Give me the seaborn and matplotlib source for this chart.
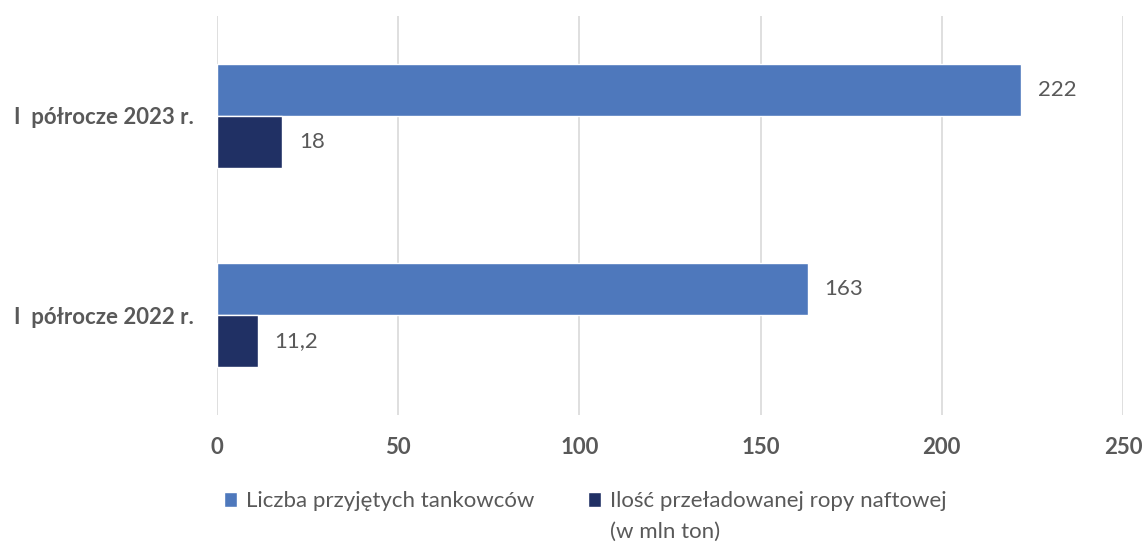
import matplotlib
matplotlib.use("Agg")
import matplotlib.pyplot as plt
import seaborn as sns
import pandas as pd

# Data
categories = ["I  półrocze 2023 r.", "I  półrocze 2022 r."]
series_names = ["Liczba przyjętych tankowców",
                "Ilość przeładowanej ropy naftowej"]
series_note = "(w mln ton)"
tankers = [222, 163]
oil_mln_t = [18, 11.2]
x_ticks = [0, 50, 100, 150, 200, 250]

df = pd.DataFrame({
    "okres": categories * 2,
    "seria": [series_names[0]] * 2 + [series_names[1]] * 2,
    "wartosc": tankers + oil_mln_t,
})

sns.set_theme(style="white")
plt.rcParams["font.family"] = ["Lato", "DejaVu Sans"]

text_color = "#595959"
colors = ["#4E78BC", "#203064"]

fig = plt.figure(figsize=(11.47, 5.42), dpi=100)
ax = fig.add_axes([0.1892, 0.2343, 0.7898, 0.7362])

sns.barplot(data=df, y="okres", x="wartosc", hue="seria",
            order=categories, hue_order=series_names,
            palette=colors, orient="h", width=0.522,
            saturation=1, ax=ax, legend=True)

ax.set_xlim(0, 250)
ax.set_ylim(1.5, -0.5)
ax.set_xticks(x_ticks)
ax.set_xlabel("")
ax.set_ylabel("")
ax.grid(axis="x", color="#D9D9D9", linewidth=1.2)
ax.set_axisbelow(True)
for s in ax.spines.values():
    s.set_visible(False)
ax.tick_params(axis="both", length=0, labelsize=16, labelcolor=text_color)
ax.tick_params(axis="x", pad=16)
ax.tick_params(axis="y", pad=17)
for lbl in ax.get_xticklabels() + ax.get_yticklabels():
    lbl.set_fontweight("bold")

# Value labels
def fmt(v):
    return f"{v:g}".replace(".", ",")

for container in ax.containers:
    ax.bar_label(container, labels=[fmt(b.get_width()) for b in container],
                 padding=12, fontsize=16, color=text_color)

handles, labels = ax.get_legend_handles_labels()
ax.get_legend().remove()
leg = fig.legend(handles, labels, loc="center", bbox_to_anchor=(0.510, 0.075),
                 ncol=2, frameon=False, fontsize=16, labelcolor=text_color,
                 handlelength=0.6, handleheight=0.6, handletextpad=0.4,
                 columnspacing=2.4)

# Second line of the oil series label, aligned under its first line
fig.canvas.draw()
renderer = fig.canvas.get_renderer()
bb = leg.get_texts()[1].get_window_extent(renderer)
x0, y0 = fig.transFigure.inverted().transform((bb.x0, bb.y0))
fig.text(x0, y0 - 0.02, series_note, ha="left", va="top",
         fontsize=16, color=text_color)

fig.savefig("out.png", dpi=100, facecolor="white")
